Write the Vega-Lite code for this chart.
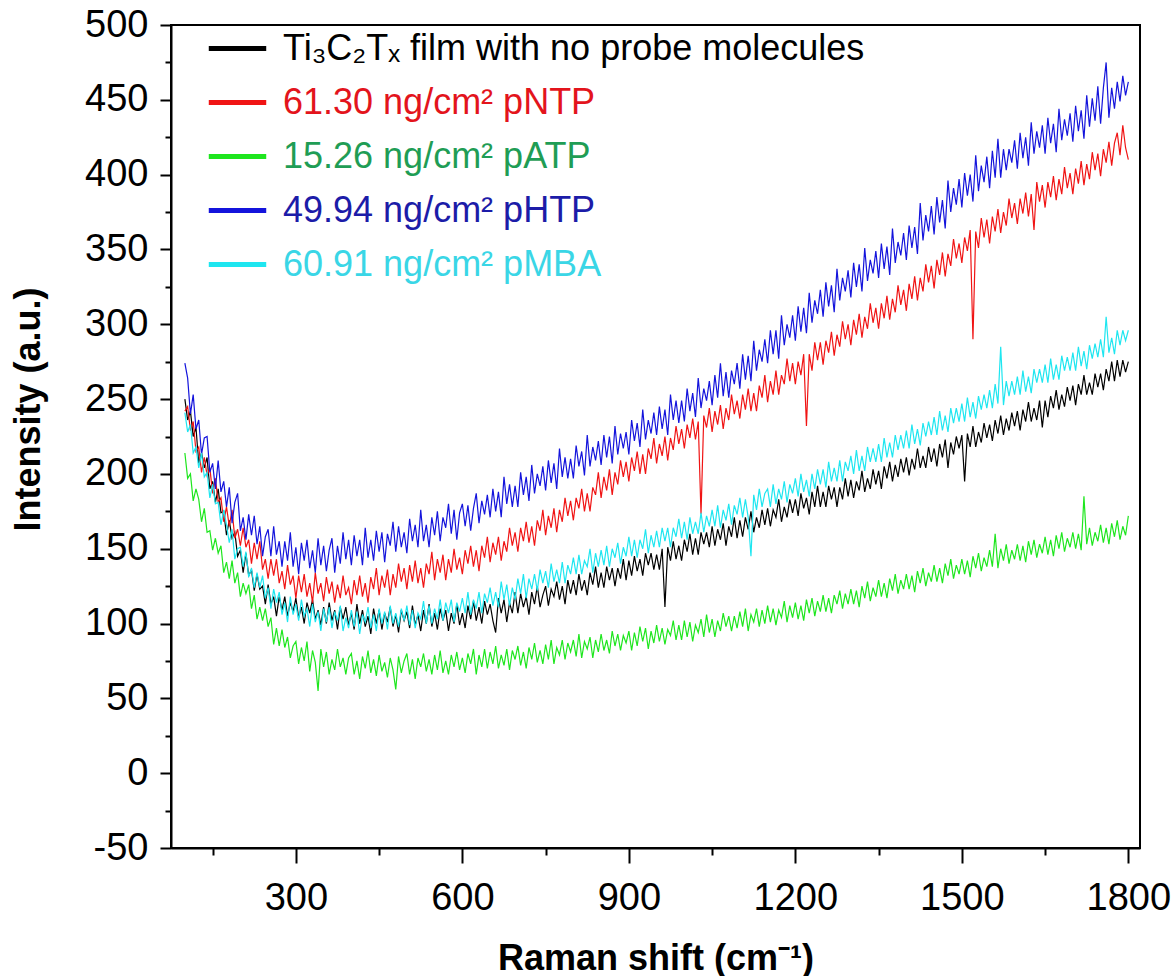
{
"$schema": "https://vega.github.io/schema/vega-lite/v6.json",
"width": 969, "height": 823,
"autosize": {"type": "none"},
"padding": {"left": 171, "top": 25, "right": 34, "bottom": 128},
"background": "white",
"config": {"view": {"stroke": "black", "strokeWidth": 2}, "font": "Liberation Sans",
  "axis": {"domainColor": "black", "tickColor": "black", "labelColor": "black", "titleColor": "black", "grid": false}},
"layer": [
{
"data": {"values": [
{"x":100,"k":250,"r":242,"g":214,"b":274,"c":241},
{"x":105,"k":236,"r":245,"g":197,"b":264,"c":228},
{"x":110,"k":242,"r":229,"g":200,"b":240,"c":233},
{"x":115,"k":225,"r":235,"g":182,"b":253,"c":214},
{"x":120,"k":231,"r":215,"g":190,"b":230,"c":218},
{"x":125,"k":207,"r":218,"g":183,"b":236,"c":204},
{"x":130,"k":214,"r":201,"g":168,"b":213,"c":214},
{"x":135,"k":204,"r":211,"g":177,"b":224,"c":198},
{"x":140,"k":211,"r":199,"g":161,"b":225,"c":201},
{"x":145,"k":190,"r":204,"g":162,"b":201,"c":184},
{"x":150,"k":195,"r":187,"g":149,"b":207,"c":193},
{"x":155,"k":181,"r":197,"g":157,"b":190,"c":180},
{"x":160,"k":190,"r":181,"g":147,"b":209,"c":181},
{"x":165,"k":174,"r":184,"g":152,"b":188,"c":166},
{"x":170,"k":175,"r":168,"g":134,"b":195,"c":176},
{"x":175,"k":159,"r":178,"g":141,"b":178,"c":166},
{"x":180,"k":169,"r":165,"g":130,"b":191,"c":154},
{"x":185,"k":157,"r":176,"g":142,"b":167,"c":163},
{"x":190,"k":161,"r":157,"g":127,"b":181,"c":143},
{"x":195,"k":145,"r":163,"g":134,"b":187,"c":150},
{"x":200,"k":149,"r":152,"g":118,"b":162,"c":151},
{"x":205,"k":134,"r":164,"g":127,"b":171,"c":138},
{"x":210,"k":147,"r":151,"g":120,"b":156,"c":148},
{"x":215,"k":132,"r":156,"g":126,"b":173,"c":131},
{"x":220,"k":136,"r":140,"g":110,"b":159,"c":137},
{"x":225,"k":122,"r":154,"g":119,"b":172,"c":124},
{"x":230,"k":133,"r":143,"g":103,"b":153,"c":134},
{"x":235,"k":123,"r":155,"g":111,"b":165,"c":124},
{"x":240,"k":125,"r":136,"g":102,"b":145,"c":132},
{"x":245,"k":113,"r":143,"g":110,"b":158,"c":117},
{"x":250,"k":126,"r":130,"g":98,"b":163,"c":124},
{"x":255,"k":113,"r":143,"g":104,"b":145,"c":110},
{"x":260,"k":118,"r":132,"g":86,"b":165,"c":123},
{"x":265,"k":105,"r":143,"g":97,"b":146,"c":114},
{"x":270,"k":118,"r":127,"g":85,"b":155,"c":121},
{"x":275,"k":109,"r":135,"g":96,"b":138,"c":106},
{"x":280,"k":118,"r":123,"g":84,"b":155,"c":114},
{"x":285,"k":105,"r":139,"g":91,"b":142,"c":101},
{"x":290,"k":114,"r":126,"g":77,"b":161,"c":118},
{"x":295,"k":108,"r":132,"g":85,"b":138,"c":106},
{"x":300,"k":117,"r":117,"g":88,"b":151,"c":113},
{"x":305,"k":104,"r":132,"g":73,"b":133,"c":102},
{"x":310,"k":111,"r":121,"g":84,"b":154,"c":116},
{"x":315,"k":100,"r":133,"g":75,"b":142,"c":105},
{"x":320,"k":114,"r":118,"g":88,"b":156,"c":110},
{"x":325,"k":107,"r":127,"g":68,"b":137,"c":98},
{"x":330,"k":116,"r":114,"g":82,"b":149,"c":113},
{"x":335,"k":103,"r":134,"g":74,"b":134,"c":101},
{"x":340,"k":109,"r":120,"g":55,"b":157,"c":108},
{"x":345,"k":99,"r":127,"g":83,"b":139,"c":95},
{"x":350,"k":111,"r":115,"g":71,"b":152,"c":110},
{"x":355,"k":100,"r":131,"g":81,"b":135,"c":101},
{"x":360,"k":114,"r":120,"g":66,"b":149,"c":111},
{"x":365,"k":102,"r":128,"g":76,"b":157,"c":97},
{"x":370,"k":109,"r":114,"g":69,"b":134,"c":108},
{"x":375,"k":96,"r":126,"g":83,"b":152,"c":102},
{"x":380,"k":111,"r":117,"g":71,"b":140,"c":112},
{"x":385,"k":103,"r":132,"g":77,"b":161,"c":95},
{"x":390,"k":111,"r":119,"g":66,"b":143,"c":104},
{"x":395,"k":99,"r":124,"g":77,"b":156,"c":97},
{"x":400,"k":107,"r":113,"g":80,"b":139,"c":109},
{"x":405,"k":96,"r":129,"g":66,"b":159,"c":98},
{"x":410,"k":113,"r":119,"g":75,"b":145,"c":108},
{"x":415,"k":100,"r":132,"g":63,"b":156,"c":93},
{"x":420,"k":109,"r":118,"g":78,"b":139,"c":106},
{"x":425,"k":98,"r":127,"g":70,"b":164,"c":101},
{"x":430,"k":105,"r":114,"g":82,"b":144,"c":111},
{"x":435,"k":93,"r":131,"g":67,"b":156,"c":97},
{"x":440,"k":110,"r":123,"g":76,"b":142,"c":106},
{"x":445,"k":100,"r":137,"g":65,"b":162,"c":95},
{"x":450,"k":109,"r":119,"g":79,"b":148,"c":110},
{"x":455,"k":96,"r":132,"g":68,"b":161,"c":100},
{"x":460,"k":107,"r":124,"g":74,"b":141,"c":108},
{"x":465,"k":101,"r":136,"g":64,"b":160,"c":96},
{"x":470,"k":111,"r":119,"g":77,"b":152,"c":112},
{"x":475,"k":98,"r":133,"g":69,"b":168,"c":100},
{"x":480,"k":106,"r":124,"g":56,"b":148,"c":107},
{"x":485,"k":94,"r":140,"g":78,"b":165,"c":98},
{"x":490,"k":109,"r":128,"g":67,"b":151,"c":110},
{"x":495,"k":102,"r":137,"g":75,"b":161,"c":102},
{"x":500,"k":108,"r":123,"g":80,"b":147,"c":112},
{"x":505,"k":97,"r":139,"g":66,"b":170,"c":99},
{"x":510,"k":112,"r":128,"g":76,"b":155,"c":109},
{"x":515,"k":99,"r":142,"g":63,"b":166,"c":97},
{"x":520,"k":106,"r":127,"g":77,"b":151,"c":107},
{"x":525,"k":95,"r":137,"g":71,"b":176,"c":103},
{"x":530,"k":109,"r":124,"g":80,"b":155,"c":115},
{"x":535,"k":100,"r":140,"g":68,"b":166,"c":100},
{"x":540,"k":113,"r":133,"g":76,"b":151,"c":112},
{"x":545,"k":98,"r":148,"g":66,"b":171,"c":100},
{"x":550,"k":107,"r":129,"g":79,"b":159,"c":110},
{"x":555,"k":96,"r":143,"g":69,"b":175,"c":103},
{"x":560,"k":110,"r":134,"g":82,"b":155,"c":116},
{"x":565,"k":102,"r":146,"g":67,"b":171,"c":102},
{"x":570,"k":109,"r":129,"g":75,"b":164,"c":114},
{"x":575,"k":95,"r":143,"g":66,"b":180,"c":107},
{"x":580,"k":107,"r":134,"g":79,"b":160,"c":116},
{"x":585,"k":100,"r":150,"g":71,"b":176,"c":101},
{"x":590,"k":113,"r":136,"g":81,"b":156,"c":114},
{"x":595,"k":99,"r":144,"g":69,"b":174,"c":108},
{"x":600,"k":107,"r":133,"g":77,"b":180,"c":117},
{"x":605,"k":97,"r":149,"g":67,"b":165,"c":107},
{"x":610,"k":112,"r":140,"g":80,"b":179,"c":121},
{"x":615,"k":103,"r":152,"g":73,"b":162,"c":106},
{"x":620,"k":115,"r":138,"g":83,"b":177,"c":116},
{"x":625,"k":102,"r":149,"g":66,"b":187,"c":110},
{"x":630,"k":111,"r":135,"g":79,"b":167,"c":121},
{"x":635,"k":100,"r":152,"g":71,"b":182,"c":107},
{"x":640,"k":115,"r":144,"g":83,"b":173,"c":120},
{"x":645,"k":106,"r":158,"g":70,"b":186,"c":114},
{"x":650,"k":113,"r":141,"g":81,"b":171,"c":124},
{"x":655,"k":102,"r":154,"g":73,"b":190,"c":112},
{"x":660,"k":94,"r":146,"g":85,"b":175,"c":121},
{"x":665,"k":117,"r":158,"g":70,"b":188,"c":111},
{"x":670,"k":107,"r":142,"g":79,"b":171,"c":128},
{"x":675,"k":116,"r":155,"g":72,"b":198,"c":116},
{"x":680,"k":101,"r":148,"g":83,"b":180,"c":126},
{"x":685,"k":114,"r":164,"g":69,"b":193,"c":112},
{"x":690,"k":107,"r":152,"g":82,"b":178,"c":124},
{"x":695,"k":121,"r":161,"g":76,"b":192,"c":116},
{"x":700,"k":107,"r":148,"g":85,"b":178,"c":130},
{"x":705,"k":120,"r":164,"g":72,"b":201,"c":120},
{"x":710,"k":111,"r":155,"g":81,"b":186,"c":133},
{"x":715,"k":118,"r":168,"g":70,"b":198,"c":117},
{"x":720,"k":106,"r":154,"g":84,"b":182,"c":130},
{"x":725,"k":121,"r":165,"g":76,"b":206,"c":123},
{"x":730,"k":113,"r":152,"g":87,"b":187,"c":133},
{"x":735,"k":125,"r":169,"g":74,"b":200,"c":122},
{"x":740,"k":111,"r":162,"g":82,"b":192,"c":136},
{"x":745,"k":119,"r":176,"g":73,"b":205,"c":127},
{"x":750,"k":125,"r":159,"g":86,"b":189,"c":135},
{"x":755,"k":112,"r":172,"g":76,"b":209,"c":124},
{"x":760,"k":123,"r":164,"g":89,"b":194,"c":140},
{"x":765,"k":118,"r":177,"g":73,"b":207,"c":128},
{"x":770,"k":128,"r":161,"g":84,"b":190,"c":136},
{"x":775,"k":116,"r":176,"g":79,"b":217,"c":127},
{"x":780,"k":125,"r":168,"g":89,"b":198,"c":141},
{"x":785,"k":113,"r":184,"g":76,"b":211,"c":127},
{"x":790,"k":129,"r":172,"g":87,"b":197,"c":139},
{"x":795,"k":120,"r":182,"g":81,"b":210,"c":133},
{"x":800,"k":129,"r":169,"g":89,"b":197,"c":144},
{"x":805,"k":119,"r":184,"g":78,"b":219,"c":133},
{"x":810,"k":133,"r":177,"g":93,"b":205,"c":146},
{"x":815,"k":122,"r":190,"g":77,"b":215,"c":133},
{"x":820,"k":129,"r":175,"g":88,"b":199,"c":142},
{"x":825,"k":119,"r":187,"g":83,"b":226,"c":138},
{"x":830,"k":134,"r":175,"g":91,"b":205,"c":150},
{"x":835,"k":126,"r":191,"g":77,"b":218,"c":134},
{"x":840,"k":138,"r":186,"g":89,"b":209,"c":147},
{"x":845,"k":124,"r":201,"g":81,"b":222,"c":138},
{"x":850,"k":134,"r":184,"g":93,"b":206,"c":149},
{"x":855,"k":124,"r":198,"g":82,"b":226,"c":139},
{"x":860,"k":138,"r":189,"g":89,"b":211,"c":152},
{"x":865,"k":129,"r":203,"g":80,"b":225,"c":138},
{"x":870,"k":137,"r":186,"g":95,"b":207,"c":150},
{"x":875,"k":125,"r":201,"g":85,"b":232,"c":144},
{"x":880,"k":137,"r":193,"g":93,"b":213,"c":154},
{"x":885,"k":130,"r":209,"g":82,"b":227,"c":140},
{"x":890,"k":143,"r":198,"g":92,"b":217,"c":151},
{"x":895,"k":129,"r":208,"g":87,"b":228,"c":145},
{"x":900,"k":142,"r":195,"g":95,"b":213,"c":158},
{"x":905,"k":132,"r":211,"g":82,"b":236,"c":145},
{"x":910,"k":145,"r":202,"g":94,"b":222,"c":156},
{"x":915,"k":135,"r":215,"g":85,"b":234,"c":144},
{"x":920,"k":143,"r":200,"g":98,"b":218,"c":156},
{"x":925,"k":132,"r":213,"g":88,"b":243,"c":150},
{"x":930,"k":147,"r":200,"g":97,"b":223,"c":163},
{"x":935,"k":139,"r":217,"g":83,"b":236,"c":147},
{"x":940,"k":147,"r":210,"g":95,"b":227,"c":159},
{"x":945,"k":136,"r":224,"g":87,"b":241,"c":151},
{"x":950,"k":146,"r":207,"g":99,"b":226,"c":162},
{"x":955,"k":136,"r":220,"g":88,"b":245,"c":151},
{"x":960,"k":150,"r":212,"g":97,"b":230,"c":164},
{"x":965,"k":111,"r":225,"g":86,"b":243,"c":155},
{"x":970,"k":151,"r":209,"g":96,"b":226,"c":164},
{"x":975,"k":142,"r":224,"g":92,"b":253,"c":151},
{"x":980,"k":155,"r":216,"g":102,"b":236,"c":164},
{"x":985,"k":143,"r":232,"g":89,"b":249,"c":158},
{"x":990,"k":152,"r":220,"g":99,"b":234,"c":170},
{"x":995,"k":142,"r":230,"g":89,"b":249,"c":157},
{"x":1000,"k":156,"r":217,"g":102,"b":235,"c":168},
{"x":1005,"k":148,"r":233,"g":91,"b":257,"c":156},
{"x":1010,"k":160,"r":224,"g":101,"b":242,"c":171},
{"x":1015,"k":146,"r":237,"g":88,"b":254,"c":160},
{"x":1020,"k":157,"r":223,"g":99,"b":238,"c":168},
{"x":1025,"k":146,"r":235,"g":94,"b":264,"c":160},
{"x":1030,"k":161,"r":173,"g":103,"b":244,"c":174},
{"x":1035,"k":153,"r":239,"g":91,"b":257,"c":161},
{"x":1040,"k":161,"r":231,"g":106,"b":249,"c":172},
{"x":1045,"k":151,"r":244,"g":94,"b":262,"c":165},
{"x":1050,"k":165,"r":228,"g":103,"b":246,"c":176},
{"x":1055,"k":152,"r":242,"g":91,"b":266,"c":165},
{"x":1060,"k":163,"r":233,"g":102,"b":251,"c":179},
{"x":1065,"k":156,"r":246,"g":95,"b":274,"c":164},
{"x":1070,"k":167,"r":230,"g":107,"b":252,"c":176},
{"x":1075,"k":152,"r":244,"g":98,"b":268,"c":169},
{"x":1080,"k":165,"r":236,"g":105,"b":251,"c":180},
{"x":1085,"k":158,"r":253,"g":95,"b":269,"c":166},
{"x":1090,"k":171,"r":240,"g":105,"b":260,"c":179},
{"x":1095,"k":157,"r":249,"g":97,"b":274,"c":173},
{"x":1100,"k":169,"r":237,"g":108,"b":257,"c":184},
{"x":1105,"k":158,"r":253,"g":98,"b":280,"c":171},
{"x":1110,"k":171,"r":243,"g":110,"b":263,"c":183},
{"x":1115,"k":163,"r":257,"g":95,"b":279,"c":171},
{"x":1120,"k":175,"r":242,"g":106,"b":262,"c":145},
{"x":1125,"k":161,"r":254,"g":101,"b":289,"c":186},
{"x":1130,"k":171,"r":242,"g":110,"b":269,"c":176},
{"x":1135,"k":164,"r":259,"g":98,"b":283,"c":190},
{"x":1140,"k":176,"r":251,"g":109,"b":275,"c":178},
{"x":1145,"k":166,"r":266,"g":100,"b":290,"c":187},
{"x":1150,"k":177,"r":248,"g":112,"b":274,"c":190},
{"x":1155,"k":165,"r":262,"g":101,"b":296,"c":178},
{"x":1160,"k":176,"r":253,"g":110,"b":280,"c":193},
{"x":1165,"k":171,"r":269,"g":99,"b":296,"c":180},
{"x":1170,"k":183,"r":253,"g":109,"b":277,"c":190},
{"x":1175,"k":168,"r":266,"g":104,"b":306,"c":183},
{"x":1180,"k":178,"r":260,"g":115,"b":286,"c":195},
{"x":1185,"k":171,"r":277,"g":101,"b":300,"c":181},
{"x":1190,"k":183,"r":262,"g":112,"b":291,"c":193},
{"x":1195,"k":174,"r":274,"g":104,"b":306,"c":187},
{"x":1200,"k":183,"r":260,"g":114,"b":289,"c":197},
{"x":1205,"k":172,"r":275,"g":103,"b":312,"c":185},
{"x":1210,"k":187,"r":266,"g":112,"b":295,"c":200},
{"x":1215,"k":177,"r":280,"g":102,"b":311,"c":188},
{"x":1220,"k":184,"r":232,"g":116,"b":294,"c":196},
{"x":1225,"k":173,"r":280,"g":107,"b":321,"c":185},
{"x":1230,"k":188,"r":269,"g":117,"b":301,"c":200},
{"x":1235,"k":178,"r":288,"g":105,"b":316,"c":190},
{"x":1240,"k":192,"r":276,"g":115,"b":307,"c":203},
{"x":1245,"k":178,"r":288,"g":108,"b":323,"c":193},
{"x":1250,"k":188,"r":273,"g":119,"b":305,"c":203},
{"x":1255,"k":178,"r":289,"g":108,"b":328,"c":191},
{"x":1260,"k":192,"r":281,"g":117,"b":312,"c":208},
{"x":1265,"k":183,"r":295,"g":107,"b":326,"c":195},
{"x":1270,"k":191,"r":279,"g":119,"b":308,"c":204},
{"x":1275,"k":178,"r":293,"g":113,"b":337,"c":195},
{"x":1280,"k":191,"r":285,"g":122,"b":316,"c":209},
{"x":1285,"k":183,"r":302,"g":110,"b":331,"c":195},
{"x":1290,"k":197,"r":290,"g":120,"b":322,"c":208},
{"x":1295,"k":185,"r":300,"g":113,"b":336,"c":202},
{"x":1300,"k":196,"r":286,"g":123,"b":318,"c":212},
{"x":1305,"k":184,"r":303,"g":113,"b":341,"c":200},
{"x":1310,"k":195,"r":293,"g":122,"b":325,"c":216},
{"x":1315,"k":189,"r":307,"g":111,"b":340,"c":202},
{"x":1320,"k":202,"r":291,"g":125,"b":322,"c":212},
{"x":1325,"k":188,"r":305,"g":117,"b":351,"c":202},
{"x":1330,"k":197,"r":297,"g":128,"b":329,"c":218},
{"x":1335,"k":190,"r":314,"g":115,"b":343,"c":208},
{"x":1340,"k":203,"r":301,"g":124,"b":334,"c":217},
{"x":1345,"k":193,"r":311,"g":118,"b":349,"c":208},
{"x":1350,"k":202,"r":297,"g":129,"b":331,"c":220},
{"x":1355,"k":190,"r":314,"g":118,"b":354,"c":208},
{"x":1360,"k":205,"r":304,"g":127,"b":337,"c":224},
{"x":1365,"k":197,"r":319,"g":117,"b":352,"c":211},
{"x":1370,"k":208,"r":303,"g":130,"b":333,"c":221},
{"x":1375,"k":195,"r":317,"g":122,"b":364,"c":211},
{"x":1380,"k":206,"r":308,"g":133,"b":341,"c":226},
{"x":1385,"k":198,"r":326,"g":120,"b":355,"c":216},
{"x":1390,"k":210,"r":313,"g":129,"b":346,"c":226},
{"x":1395,"k":201,"r":323,"g":123,"b":361,"c":217},
{"x":1400,"k":211,"r":309,"g":133,"b":343,"c":229},
{"x":1405,"k":199,"r":327,"g":123,"b":366,"c":217},
{"x":1410,"k":210,"r":317,"g":132,"b":351,"c":233},
{"x":1415,"k":203,"r":332,"g":121,"b":365,"c":220},
{"x":1420,"k":217,"r":316,"g":135,"b":347,"c":230},
{"x":1425,"k":204,"r":331,"g":127,"b":381,"c":219},
{"x":1430,"k":212,"r":322,"g":137,"b":356,"c":234},
{"x":1435,"k":204,"r":340,"g":125,"b":373,"c":225},
{"x":1440,"k":218,"r":328,"g":134,"b":362,"c":235},
{"x":1445,"k":208,"r":339,"g":128,"b":379,"c":226},
{"x":1450,"k":217,"r":324,"g":139,"b":360,"c":238},
{"x":1455,"k":205,"r":343,"g":128,"b":385,"c":226},
{"x":1460,"k":220,"r":333,"g":137,"b":368,"c":242},
{"x":1465,"k":211,"r":348,"g":127,"b":383,"c":229},
{"x":1470,"k":223,"r":332,"g":140,"b":364,"c":239},
{"x":1475,"k":204,"r":347,"g":132,"b":396,"c":228},
{"x":1480,"k":221,"r":339,"g":143,"b":375,"c":244},
{"x":1485,"k":213,"r":357,"g":130,"b":391,"c":234},
{"x":1490,"k":225,"r":344,"g":139,"b":380,"c":244},
{"x":1495,"k":217,"r":354,"g":133,"b":397,"c":235},
{"x":1500,"k":226,"r":341,"g":143,"b":378,"c":247},
{"x":1505,"k":195,"r":358,"g":133,"b":401,"c":235},
{"x":1510,"k":227,"r":349,"g":142,"b":386,"c":251},
{"x":1515,"k":218,"r":363,"g":131,"b":400,"c":238},
{"x":1520,"k":232,"r":290,"g":145,"b":382,"c":248},
{"x":1525,"k":218,"r":362,"g":137,"b":413,"c":237},
{"x":1530,"k":228,"r":351,"g":147,"b":389,"c":252},
{"x":1535,"k":221,"r":371,"g":135,"b":406,"c":243},
{"x":1540,"k":234,"r":358,"g":144,"b":395,"c":253},
{"x":1545,"k":224,"r":370,"g":138,"b":412,"c":244},
{"x":1550,"k":233,"r":354,"g":149,"b":391,"c":256},
{"x":1555,"k":222,"r":372,"g":138,"b":416,"c":244},
{"x":1560,"k":236,"r":362,"g":160,"b":398,"c":260},
{"x":1565,"k":227,"r":377,"g":137,"b":424,"c":247},
{"x":1570,"k":239,"r":361,"g":150,"b":398,"c":285},
{"x":1575,"k":226,"r":375,"g":142,"b":417,"c":246},
{"x":1580,"k":237,"r":366,"g":153,"b":403,"c":262},
{"x":1585,"k":229,"r":384,"g":140,"b":417,"c":252},
{"x":1590,"k":241,"r":371,"g":149,"b":408,"c":262},
{"x":1595,"k":232,"r":381,"g":143,"b":423,"c":253},
{"x":1600,"k":242,"r":367,"g":153,"b":404,"c":265},
{"x":1605,"k":229,"r":384,"g":142,"b":428,"c":253},
{"x":1610,"k":243,"r":374,"g":152,"b":411,"c":269},
{"x":1615,"k":235,"r":388,"g":141,"b":425,"c":255},
{"x":1620,"k":248,"r":372,"g":155,"b":406,"c":265},
{"x":1625,"k":235,"r":387,"g":146,"b":435,"c":254},
{"x":1630,"k":244,"r":363,"g":156,"b":414,"c":270},
{"x":1635,"k":236,"r":395,"g":144,"b":429,"c":261},
{"x":1640,"k":249,"r":382,"g":153,"b":418,"c":270},
{"x":1645,"k":231,"r":393,"g":147,"b":433,"c":261},
{"x":1650,"k":249,"r":378,"g":158,"b":414,"c":273},
{"x":1655,"k":238,"r":395,"g":146,"b":438,"c":261},
{"x":1660,"k":252,"r":385,"g":156,"b":421,"c":277},
{"x":1665,"k":244,"r":399,"g":145,"b":434,"c":263},
{"x":1670,"k":256,"r":383,"g":159,"b":415,"c":273},
{"x":1675,"k":243,"r":397,"g":150,"b":444,"c":263},
{"x":1680,"k":253,"r":387,"g":161,"b":423,"c":279},
{"x":1685,"k":245,"r":405,"g":148,"b":437,"c":269},
{"x":1690,"k":258,"r":391,"g":157,"b":426,"c":278},
{"x":1695,"k":249,"r":401,"g":151,"b":441,"c":269},
{"x":1700,"k":259,"r":387,"g":161,"b":422,"c":281},
{"x":1705,"k":246,"r":404,"g":150,"b":446,"c":269},
{"x":1710,"k":260,"r":394,"g":160,"b":429,"c":285},
{"x":1715,"k":253,"r":409,"g":149,"b":443,"c":272},
{"x":1720,"k":266,"r":393,"g":185,"b":424,"c":282},
{"x":1725,"k":253,"r":407,"g":153,"b":453,"c":270},
{"x":1730,"k":261,"r":397,"g":164,"b":432,"c":286},
{"x":1735,"k":253,"r":415,"g":152,"b":451,"c":277},
{"x":1740,"k":267,"r":403,"g":161,"b":436,"c":287},
{"x":1745,"k":258,"r":414,"g":155,"b":459,"c":278},
{"x":1750,"k":267,"r":399,"g":166,"b":434,"c":290},
{"x":1755,"k":256,"r":417,"g":154,"b":458,"c":278},
{"x":1760,"k":270,"r":408,"g":164,"b":475,"c":305},
{"x":1765,"k":262,"r":422,"g":153,"b":438,"c":281},
{"x":1770,"k":275,"r":406,"g":167,"b":458,"c":291},
{"x":1775,"k":262,"r":421,"g":158,"b":444,"c":280},
{"x":1780,"k":276,"r":428,"g":169,"b":462,"c":296},
{"x":1785,"k":265,"r":413,"g":156,"b":449,"c":286},
{"x":1790,"k":276,"r":433,"g":165,"b":466,"c":296},
{"x":1795,"k":268,"r":418,"g":159,"b":453,"c":289},
{"x":1800,"k":275,"r":410,"g":172,"b":462,"c":296}
]},
"transform": [{"fold": ["k", "r", "g", "b", "c"], "as": ["s", "v"]}],
"mark": {"type": "line", "strokeWidth": 1.2},
"encoding": {
  "x": {"field": "x", "type": "quantitative", "scale": {"domain": [75, 1821], "nice": false, "zero": false},
    "axis": {"values": [300, 600, 900, 1200, 1500, 1800], "format": "d", "tickSize": 15, "tickWidth": 2, "domainWidth": 2,
      "labelFontSize": 38, "labelPadding": 16, "labelFlush": false, "labelOverlap": false,
      "title": "Raman shift (cm⁻¹)", "titleFontSize": 36, "titleFontWeight": "bold", "titlePadding": 24}},
  "y": {"field": "v", "type": "quantitative", "scale": {"domain": [-50, 500], "nice": false, "zero": false},
    "axis": {"values": [-50, 0, 50, 100, 150, 200, 250, 300, 350, 400, 450, 500], "tickSize": 11, "tickWidth": 2, "domainWidth": 2,
      "labelFontSize": 38, "labelPadding": 12, "labelFlush": false, "labelOverlap": false,
      "labelExpr": "datum.value < 0 ? '-' + abs(datum.value) : '' + datum.value",
      "title": "Intensity (a.u.)", "titleFontSize": 36, "titleFontWeight": "bold", "titlePadding": 37, "titleY": 384}},
  "color": {"field": "s", "type": "nominal",
    "scale": {"domain": ["k", "r", "g", "b", "c"], "range": ["#000000", "#f01414", "#1ee61e", "#1414dc", "#1ee6f0"]},
    "legend": {"orient": "none", "legendX": 35, "legendY": -8, "title": null, "padding": 0,
      "symbolType": "stroke", "symbolSize": 3300, "symbolStrokeWidth": 5,
      "labelFontSize": 36, "labelOffset": 14, "labelLimit": 1000, "rowPadding": 4,
      "labelExpr": "datum.value === 'k' ? 'Ti₃C₂Tₓ film with no probe molecules' : datum.value === 'r' ? '61.30 ng/cm² pNTP' : datum.value === 'g' ? '15.26 ng/cm² pATP' : datum.value === 'b' ? '49.94 ng/cm² pHTP' : '60.91 ng/cm² pMBA'",
      "encode": {"labels": {"update": {"fill": {"signal": "datum.value === 'k' ? '#000000' : datum.value === 'r' ? '#e3141c' : datum.value === 'g' ? '#1f9d55' : datum.value === 'b' ? '#1c1ca8' : '#3ad6e6'"}}}}}
  }
}
},
{
"data": {"values": [{}]},
"mark": {"type": "point", "opacity": 0},
"encoding": {
  "x": {"datum": 1000, "type": "quantitative", "scale": {"domain": [75, 1821], "nice": false, "zero": false},
    "axis": {"orient": "bottom", "values": [150, 450, 750, 1050, 1350, 1650], "tickSize": 7, "tickWidth": 2, "labels": false, "domain": false, "title": null}},
  "y": {"datum": 100, "type": "quantitative", "scale": {"domain": [-50, 500], "nice": false, "zero": false},
    "axis": {"orient": "left", "values": [-25, 25, 75, 125, 175, 225, 275, 325, 375, 425, 475], "tickSize": 6, "tickWidth": 2, "labels": false, "domain": false, "title": null}}
}
}
],
"resolve": {"scale": {"x": "independent", "y": "independent"}}
}
